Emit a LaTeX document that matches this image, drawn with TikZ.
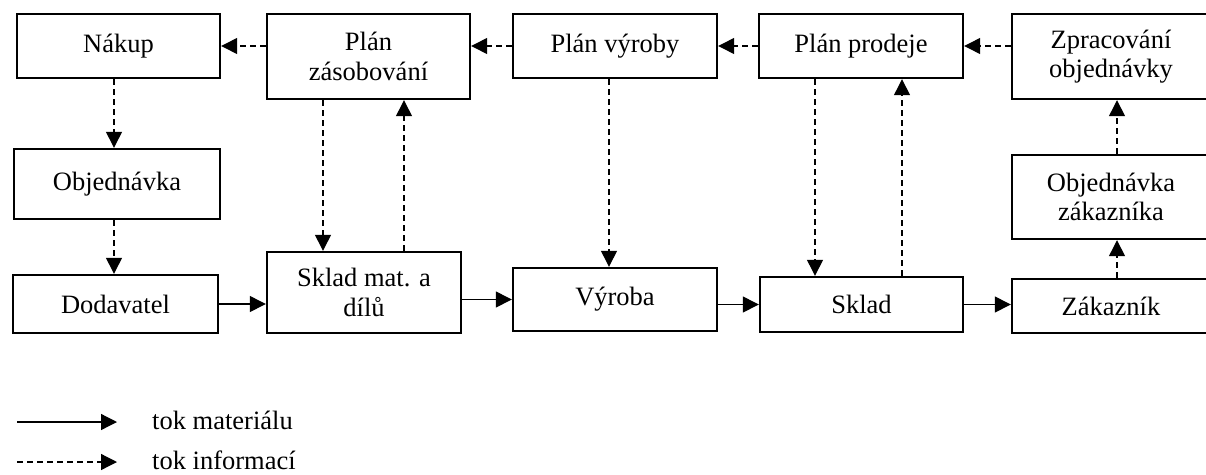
\documentclass[tikz,border=0pt]{standalone}
\usepackage{fontspec}
\setmainfont{Liberation Serif}
\usetikzlibrary{arrows.meta}
\begin{document}
\begin{tikzpicture}[x=1pt,y=-1pt,
  box/.style={draw=black, line width=2.4pt, align=center, inner sep=0pt,
    font=\fontsize{26.5}{29.5}\selectfont},
  matflow/.style={line width=1.3pt, -{Triangle[length=16pt,width=16pt]}},
  infoflow/.style={line width=1.3pt, dash pattern=on 6pt off 4pt, -{Triangle[length=16pt,width=16pt]}},
  legtext/.style={anchor=west, inner sep=0pt, font=\fontsize{26.5}{29.5}\selectfont}]
\useasboundingbox (0,0) rectangle (1206,474);
\clip (0,0) rectangle (1206,474);
% top row
\node[box, minimum width=203pt, minimum height=64pt] (nakup) at (118.5,46) {Nákup};
\node[box, minimum width=203pt, minimum height=85pt] (planzas) at (368.5,56.5) {Plán\\zásobování};
\node[box, minimum width=204pt, minimum height=64pt] (planvyr) at (615,46) {Plán výroby};
\node[box, minimum width=204pt, minimum height=64pt] (planpro) at (861,46) {Plán prodeje};
\node[box, minimum width=198pt, minimum height=85pt] (zprac) at (1111,56.5) {Zpracování\\objednávky};
% middle
\node[box, minimum width=206pt, minimum height=70pt] (objed) at (117,184) {Objednávka};
\node[box, minimum width=198pt, minimum height=84pt] (objzak) at (1111,197) {Objednávka\\zákazníka};
% bottom row
\node[box, minimum width=205pt, minimum height=58pt] (dodav) at (115.5,304) {Dodavatel};
\node[box, minimum width=194pt, minimum height=81pt] (sklmat) at (364,292.5) {Sklad mat. a\\dílů};
\node[box, minimum width=204pt, minimum height=63pt] (vyroba) at (615,299.5) {Výroba};
\node[box, minimum width=203pt, minimum height=55pt] (sklad) at (861.5,304.5) {Sklad};
\node[box, minimum width=198pt, minimum height=54pt] (zakaz) at (1111,306) {Zákazník};
% x positions of vertical connectors
\coordinate (xa) at (114,0);
\coordinate (xb) at (323,0);
\coordinate (xc) at (404,0);
\coordinate (xd) at (609,0);
\coordinate (xe) at (815,0);
\coordinate (xf) at (902,0);
\coordinate (xg) at (1117,0);
% information flows, top row
\draw[infoflow] (planzas.west |- nakup.east) -- (nakup.east);
\draw[infoflow] (planvyr.west) -- (planzas.east |- planvyr.west);
\draw[infoflow] (planpro.west) -- (planvyr.east);
\draw[infoflow] (zprac.west |- planpro.east) -- (planpro.east);
% vertical information flows
\draw[infoflow] (nakup.south -| xa) -- (objed.north -| xa);
\draw[infoflow] (objed.south -| xa) -- (dodav.north -| xa);
\draw[infoflow] (planzas.south -| xb) -- (sklmat.north -| xb);
\draw[infoflow] (sklmat.north -| xc) -- (planzas.south -| xc);
\draw[infoflow] (planvyr.south -| xd) -- (vyroba.north -| xd);
\draw[infoflow] (planpro.south -| xe) -- (sklad.north -| xe);
\draw[infoflow] (sklad.north -| xf) -- (planpro.south -| xf);
\draw[infoflow] (zakaz.north -| xg) -- (objzak.south -| xg);
\draw[infoflow] (objzak.north -| xg) -- (zprac.south -| xg);
% material flows
\draw[matflow] (dodav.east) -- (sklmat.west |- dodav.east);
\draw[matflow] (sklmat.east |- vyroba.west) -- (vyroba.west);
\draw[matflow] (vyroba.east |- sklad.west) -- (sklad.west);
\draw[matflow] (sklad.east) -- (zakaz.west |- sklad.east);
% legend
\coordinate (l1a) at (17,422);
\coordinate (l1b) at (117,422);
\coordinate (l2a) at (17,462);
\coordinate (l2b) at (117,462);
\draw[matflow] (l1a) -- (l1b);
\draw[infoflow] (l2a) -- (l2b);
\node[legtext] (lt1) at (152,420) {tok materiálu};
\node[legtext] (lt2) at (152,460) {tok informací};
\end{tikzpicture}
\end{document}
